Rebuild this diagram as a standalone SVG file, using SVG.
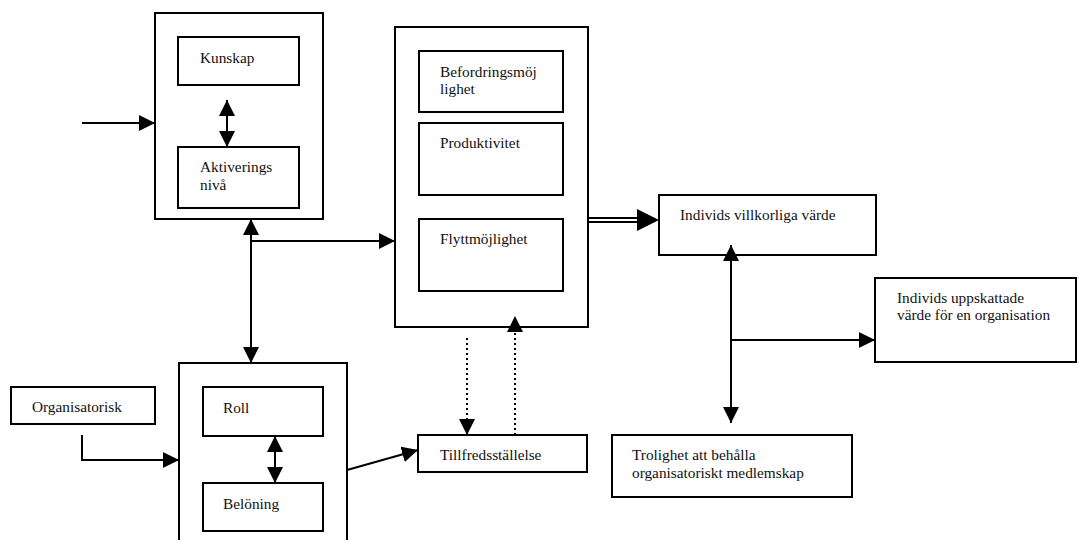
<svg xmlns="http://www.w3.org/2000/svg" width="1079" height="540" viewBox="0 0 1079 540" font-family="'Liberation Serif', 'DejaVu Serif', serif" font-size="15.3">
  <defs>
    <style>
      .box { fill: #fff; stroke: #000; stroke-width: 2; }
      .ln { fill: none; stroke: #000; stroke-width: 2; }
      .dot { fill: none; stroke: #000; stroke-width: 2; stroke-dasharray: 2 3; }
      .t { font-family: "Liberation Serif", "DejaVu Serif", serif; font-size: 15.3px; fill: #111; }
    </style>
    <marker id="ah" markerUnits="userSpaceOnUse" markerWidth="16" markerHeight="16" refX="16" refY="8" orient="auto-start-reverse">
      <path d="M0,0 L16,8 L0,16 Z" fill="#000"/>
    </marker>
    <marker id="ahBig" markerUnits="userSpaceOnUse" markerWidth="22" markerHeight="22" refX="22" refY="11" orient="auto">
      <path d="M0,0 L22,11 L0,22 Z" fill="#000"/>
    </marker>
  </defs>

  <!-- individual factors -->
  <g id="individ">
    <rect class="box" x="155" y="13" width="168" height="206"/>
    <rect class="box" x="178" y="37" width="121" height="48"/>
    <text class="t" x="200" y="63">Kunskap</text>
    <rect class="box" x="178" y="147" width="121" height="61"/>
    <text class="t" x="200" y="172">Aktiverings</text>
    <text class="t" x="200" y="190">nivå</text>
  </g>

  <!-- organisational role -->
  <g id="roll">
    <rect class="box" x="179" y="363" width="168" height="190"/>
    <rect class="box" x="203" y="387" width="120" height="49"/>
    <text class="t" x="223" y="413">Roll</text>
    <rect class="box" x="203" y="483" width="120" height="48"/>
    <text class="t" x="223" y="509">Belöning</text>
  </g>

  <g id="organisatorisk">
    <rect class="box" x="11" y="387" width="144" height="37"/>
    <text class="t" x="32" y="412">Organisatorisk</text>
  </g>

  <!-- outcomes -->
  <g id="utfall">
    <rect class="box" x="395" y="27" width="193" height="300"/>
    <rect class="box" x="419" y="51" width="144" height="61"/>
    <text class="t" x="440" y="77">Befordringsmöj</text>
    <text class="t" x="440" y="94">lighet</text>
    <rect class="box" x="419" y="123" width="144" height="72"/>
    <text class="t" x="440" y="148">Produktivitet</text>
    <rect class="box" x="419" y="219" width="144" height="72"/>
    <text class="t" x="440" y="244">Flyttmöjlighet</text>
  </g>

  <g id="tillfredsstallelse">
    <rect class="box" x="418" y="435" width="169" height="37"/>
    <text class="t" x="440" y="460">Tillfredsställelse</text>
  </g>

  <g id="villkorliga">
    <rect class="box" x="659" y="195" width="217" height="60"/>
    <text class="t" x="680" y="220">Individs villkorliga värde</text>
  </g>

  <g id="uppskattade">
    <rect class="box" x="875" y="278" width="201" height="84"/>
    <text class="t" x="897" y="303">Individs uppskattade</text>
    <text class="t" x="897" y="320">värde för en organisation</text>
  </g>

  <g id="trolighet">
    <rect class="box" x="612" y="435" width="240" height="62"/>
    <text class="t" x="632" y="460">Trolighet att behålla</text>
    <text class="t" x="632" y="478">organisatoriskt medlemskap</text>
  </g>

  <!-- connectors -->
  <g id="connectors">
    <line class="ln" x1="82" y1="123" x2="155" y2="123" marker-end="url(#ah)"/>
    <line class="ln" x1="227" y1="100" x2="227" y2="147" marker-start="url(#ah)" marker-end="url(#ah)"/>
    <line class="ln" x1="251" y1="219" x2="251" y2="363" marker-start="url(#ah)" marker-end="url(#ah)"/>
    <line class="ln" x1="251" y1="241" x2="395" y2="241" marker-end="url(#ah)"/>
    <line class="ln" x1="275" y1="436" x2="275" y2="483" marker-start="url(#ah)" marker-end="url(#ah)"/>
    <polyline class="ln" points="82,435 82,460 179,460" marker-end="url(#ah)"/>
    <line class="ln" x1="347" y1="470" x2="418" y2="450" marker-end="url(#ah)"/>
    <line class="dot" x1="467" y1="338" x2="467" y2="435" marker-end="url(#ah)"/>
    <line class="dot" x1="515" y1="435" x2="515" y2="316" marker-end="url(#ah)"/>
    <line class="ln" x1="588" y1="218" x2="640" y2="218"/>
    <line class="ln" x1="588" y1="222" x2="640" y2="222"/>
    <line x1="630" y1="220" x2="659" y2="220" stroke="none" marker-end="url(#ahBig)"/>
    <line class="ln" x1="731" y1="423" x2="731" y2="245" marker-start="url(#ah)" marker-end="url(#ah)"/>
    <line class="ln" x1="731" y1="340" x2="875" y2="340" marker-end="url(#ah)"/>
  </g>
</svg>
